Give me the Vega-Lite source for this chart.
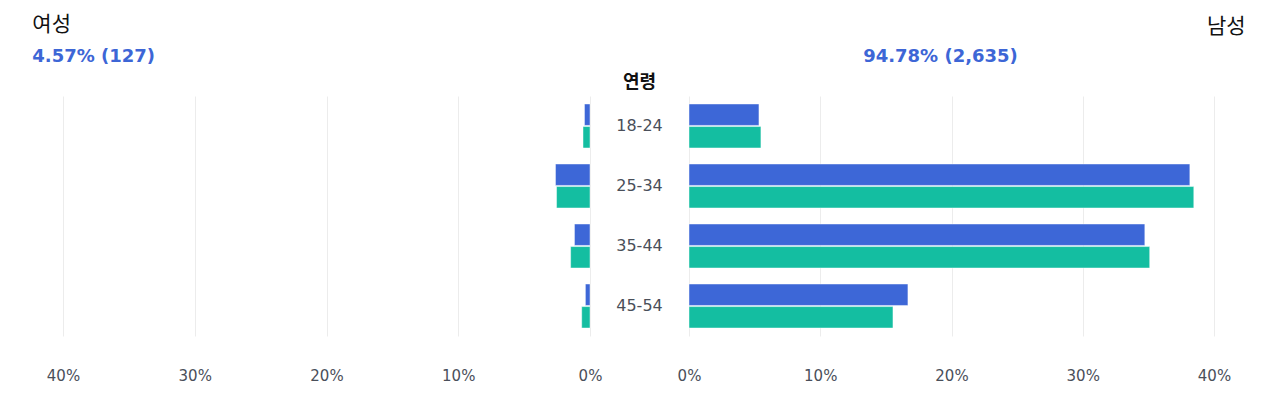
{
  "$schema": "https://vega.github.io/schema/vega-lite/v6.json",
  "background": "white",
  "padding": {"left": 32, "top": 14, "right": 30, "bottom": 10},
  "config": {"view": {"stroke": null}, "font": "DejaVu Sans"},
  "bounds": "flush",
  "spacing": 0,
  "data": {"values": [
    {"sex": "F", "age": "18-24", "series": "A", "value": 0.0042},
    {"sex": "F", "age": "25-34", "series": "A", "value": 0.0262},
    {"sex": "F", "age": "35-44", "series": "A", "value": 0.0118},
    {"sex": "F", "age": "45-54", "series": "A", "value": 0.0035},
    {"sex": "F", "age": "18-24", "series": "B", "value": 0.0053},
    {"sex": "F", "age": "25-34", "series": "B", "value": 0.0254},
    {"sex": "F", "age": "35-44", "series": "B", "value": 0.0147},
    {"sex": "F", "age": "45-54", "series": "B", "value": 0.0063},
    {"sex": "M", "age": "18-24", "series": "A", "value": 0.0533},
    {"sex": "M", "age": "25-34", "series": "A", "value": 0.3816},
    {"sex": "M", "age": "35-44", "series": "A", "value": 0.3473},
    {"sex": "M", "age": "45-54", "series": "A", "value": 0.1668},
    {"sex": "M", "age": "18-24", "series": "B", "value": 0.0548},
    {"sex": "M", "age": "25-34", "series": "B", "value": 0.3846},
    {"sex": "M", "age": "35-44", "series": "B", "value": 0.3510},
    {"sex": "M", "age": "45-54", "series": "B", "value": 0.1554}
  ]},
  "hconcat": [
    {
      "width": 527,
      "height": 240,
      "title": {
        "text": "여성", "subtitle": "4.57% (127)", "anchor": "start", "dx": -14,
        "font": "Noto Sans CJK KR", "fontSize": 21, "fontWeight": "normal", "color": "#111111",
        "subtitleFont": "DejaVu Sans", "subtitleFontSize": 18, "subtitleFontWeight": "bold",
        "subtitleColor": "#3d66d6", "subtitlePadding": 13, "offset": 30
      },
      "transform": [{"filter": "datum.sex === 'F'"}],
      "mark": {"type": "bar", "stroke": "white", "strokeWidth": 1, "strokeOpacity": 0.45},
      "encoding": {
        "y": {"field": "age", "type": "nominal", "axis": null,
              "scale": {"paddingInner": 0.267, "paddingOuter": 0.133}},
        "yOffset": {"field": "series", "type": "nominal", "scale": {"paddingInner": 0.05}},
        "x": {"field": "value", "type": "quantitative",
              "scale": {"domain": [0, 0.4], "reverse": true, "nice": false},
              "axis": {"values": [0, 0.1, 0.2, 0.3, 0.4], "format": ".0%", "grid": true,
                       "gridColor": "#ececec", "domain": false, "ticks": false,
                       "labelFlush": false, "labelPadding": 32, "labelFontSize": 15,
                       "labelFont": "DejaVu Sans", "labelColor": "#4a4f5a", "title": null}},
        "color": {"field": "series", "type": "nominal",
                  "scale": {"domain": ["A", "B"], "range": ["#3d67d7", "#14bea1"]}, "legend": null}
      }
    },
    {
      "width": 99,
      "height": 240,
      "title": {"text": "연령", "anchor": "middle", "font": "Noto Sans CJK KR", "fontSize": 18,
                "fontWeight": "bold", "color": "#111111", "offset": 4},
      "transform": [{"filter": "datum.sex === 'M' && datum.series === 'A'"}],
      "mark": {"type": "text", "fontSize": 16, "font": "DejaVu Sans", "color": "#4a4f5a"},
      "encoding": {
        "y": {"field": "age", "type": "nominal", "axis": null,
              "scale": {"paddingInner": 0.267, "paddingOuter": 0.133}},
        "text": {"field": "age", "type": "nominal"}
      }
    },
    {
      "width": 525,
      "height": 240,
      "title": {
        "text": "남성", "anchor": "end", "dx": 15,
        "font": "Noto Sans CJK KR", "fontSize": 21, "fontWeight": "normal", "color": "#111111",
        "offset": 10
      },
      "transform": [{"filter": "datum.sex === 'M'"}],
      "encoding": {
        "y": {"field": "age", "type": "nominal", "axis": null,
              "scale": {"paddingInner": 0.267, "paddingOuter": 0.133}},
        "yOffset": {"field": "series", "type": "nominal", "scale": {"paddingInner": 0.05}},
        "color": {"field": "series", "type": "nominal",
                  "scale": {"domain": ["A", "B"], "range": ["#3d67d7", "#14bea1"]}, "legend": null}
      },
      "layer": [
        {
          "mark": {"type": "bar", "stroke": "white", "strokeWidth": 1, "strokeOpacity": 0.45},
          "encoding": {
            "x": {"field": "value", "type": "quantitative",
                  "scale": {"domain": [0, 0.4], "nice": false},
                  "axis": {"orient": "bottom", "values": [0, 0.1, 0.2, 0.3, 0.4], "format": ".0%", "grid": true,
                           "gridColor": "#ececec", "domain": false, "ticks": false,
                           "labelFlush": false, "labelPadding": 32, "labelFontSize": 15,
                           "labelFont": "DejaVu Sans", "labelColor": "#4a4f5a", "title": null}}
          }
        },
        {
          "mark": {"type": "bar", "opacity": 0},
          "encoding": {
            "x": {"field": "value", "type": "quantitative",
                  "axis": {"orient": "top", "title": "94.78% (2,635)", "labels": false,
                           "ticks": false, "domain": false, "grid": false,
                           "titleFont": "DejaVu Sans", "titleFontSize": 18, "titleFontWeight": "bold",
                           "titleColor": "#3d66d6", "titleX": 251, "titlePadding": 31}}
          }
        }
      ]
    }
  ]
}
